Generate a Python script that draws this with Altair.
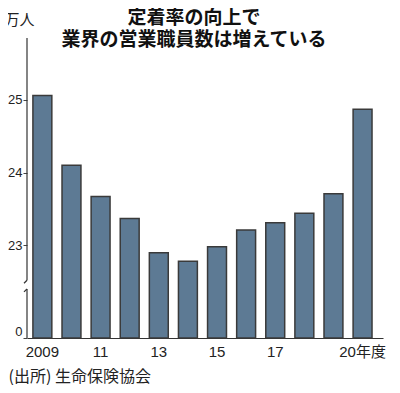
import altair as alt
import pandas as pd

years = ["2009", "2010", "2011", "2012", "2013", "2014", "2015", "2016", "2017", "2018", "2019", "2020"]
values = [25.06, 24.10, 23.67, 23.37, 22.90, 22.78, 22.98, 23.21, 23.31, 23.44, 23.71, 24.87]
x_labels = ["2009", "", "11", "", "13", "", "15", "", "17", "", "", "20年度"]
y_ticks = [0, 23, 24, 25]

title_lines = ["定着率の向上で", "業界の営業職員数は増えている"]
unit_label = "万人"
source_label = "(出所) 生命保険協会"

# broken-axis segments (value ranges)
lower_seg = [0, 22.40]
upper_seg = [22.52, 25.85]

df = pd.DataFrame({"year": years, "value": values})

label_map = "{" + ",".join(f"'{y}':'{l}'" for y, l in zip(years, x_labels)) + "}"

W, H = 356, 300
yscale = alt.Scale(domain=[0, 22.3, 25.85], range=[H, 258.3, 0], nice=False, zero=False)
num_font = "Liberation Sans, Noto Sans CJK JP"
jp_font = "Noto Sans CJK JP"

bars = alt.Chart(df).mark_bar(
    color="#5d7a94", stroke="#3a3a3a", strokeWidth=1.5
).encode(
    x=alt.X("year:N", sort=None,
            scale=alt.Scale(paddingInner=0.35, paddingOuter=0.29, align=0.35),
            axis=alt.Axis(
                title=source_label, titleFont=jp_font, titleFontSize=16, titleFontWeight="normal",
                titleColor="#222", titleX=-19, titleY=38, titleAlign="left", titleBaseline="middle",
                labelExpr=f"{label_map}[datum.value]", labelAngle=0, labelFont=num_font,
                labelFontSize=15, labelColor="#222", labelPadding=6, ticks=False,
                domainColor="#333", domainWidth=1.2)),
    y=alt.Y("value:Q", scale=yscale,
            axis=alt.Axis(
                values=y_ticks, domain=False, grid=False, tickSize=4, tickColor="#444",
                labelFont=num_font, labelFontSize=13, labelColor="#222", labelPadding=1,
                labelBaseline={"condition": {"test": "datum.value == 0", "value": "bottom"}, "value": "middle"},
                title=unit_label, titleFont=jp_font, titleFontSize=15, titleFontWeight="normal",
                titleColor="#222", titleAngle=0, titleX=-8, titleY=-19, titleAlign="center",
                titleBaseline="middle")),
)

seg_df = pd.DataFrame({"y1": [lower_seg[0], upper_seg[0]], "y2": [lower_seg[1], upper_seg[1]]})
axis_line = alt.Chart(seg_df).mark_rule(color="#333", strokeWidth=1.2).encode(
    x=alt.value(0),
    y=alt.Y("y1:Q", scale=yscale),
    y2="y2:Q",
)

hook_df = pd.DataFrame({"ya": [lower_seg[1] - 0.04, upper_seg[0]], "yb": [lower_seg[1], upper_seg[0] - 0.04],
                        "xa": [-3, 0], "xb": [0, -3]})
hooks = alt.Chart(hook_df).mark_rule(color="#333", strokeWidth=1.2).encode(
    x=alt.X("xa:Q", scale=alt.Scale(domain=[0, W], range=[0, W]), axis=None),
    x2="xb:Q",
    y=alt.Y("ya:Q", scale=yscale),
    y2="yb:Q",
)

chart = alt.layer(bars, axis_line, hooks).resolve_scale(x="independent").properties(
    width=W, height=H,
    autosize=alt.AutoSizeParams(type="none"),
    padding={"left": 19, "top": 30, "right": 9, "bottom": 47},
    title=alt.TitleParams(text=title_lines, font=jp_font, fontSize=19, fontWeight="bold",
                          color="#111", anchor="middle", dx=-11, offset=-38, lineHeight=22),
    background="white",
).configure_view(stroke=None)

chart.save("out.html", embed_options={"renderer": "svg", "actions": False})
